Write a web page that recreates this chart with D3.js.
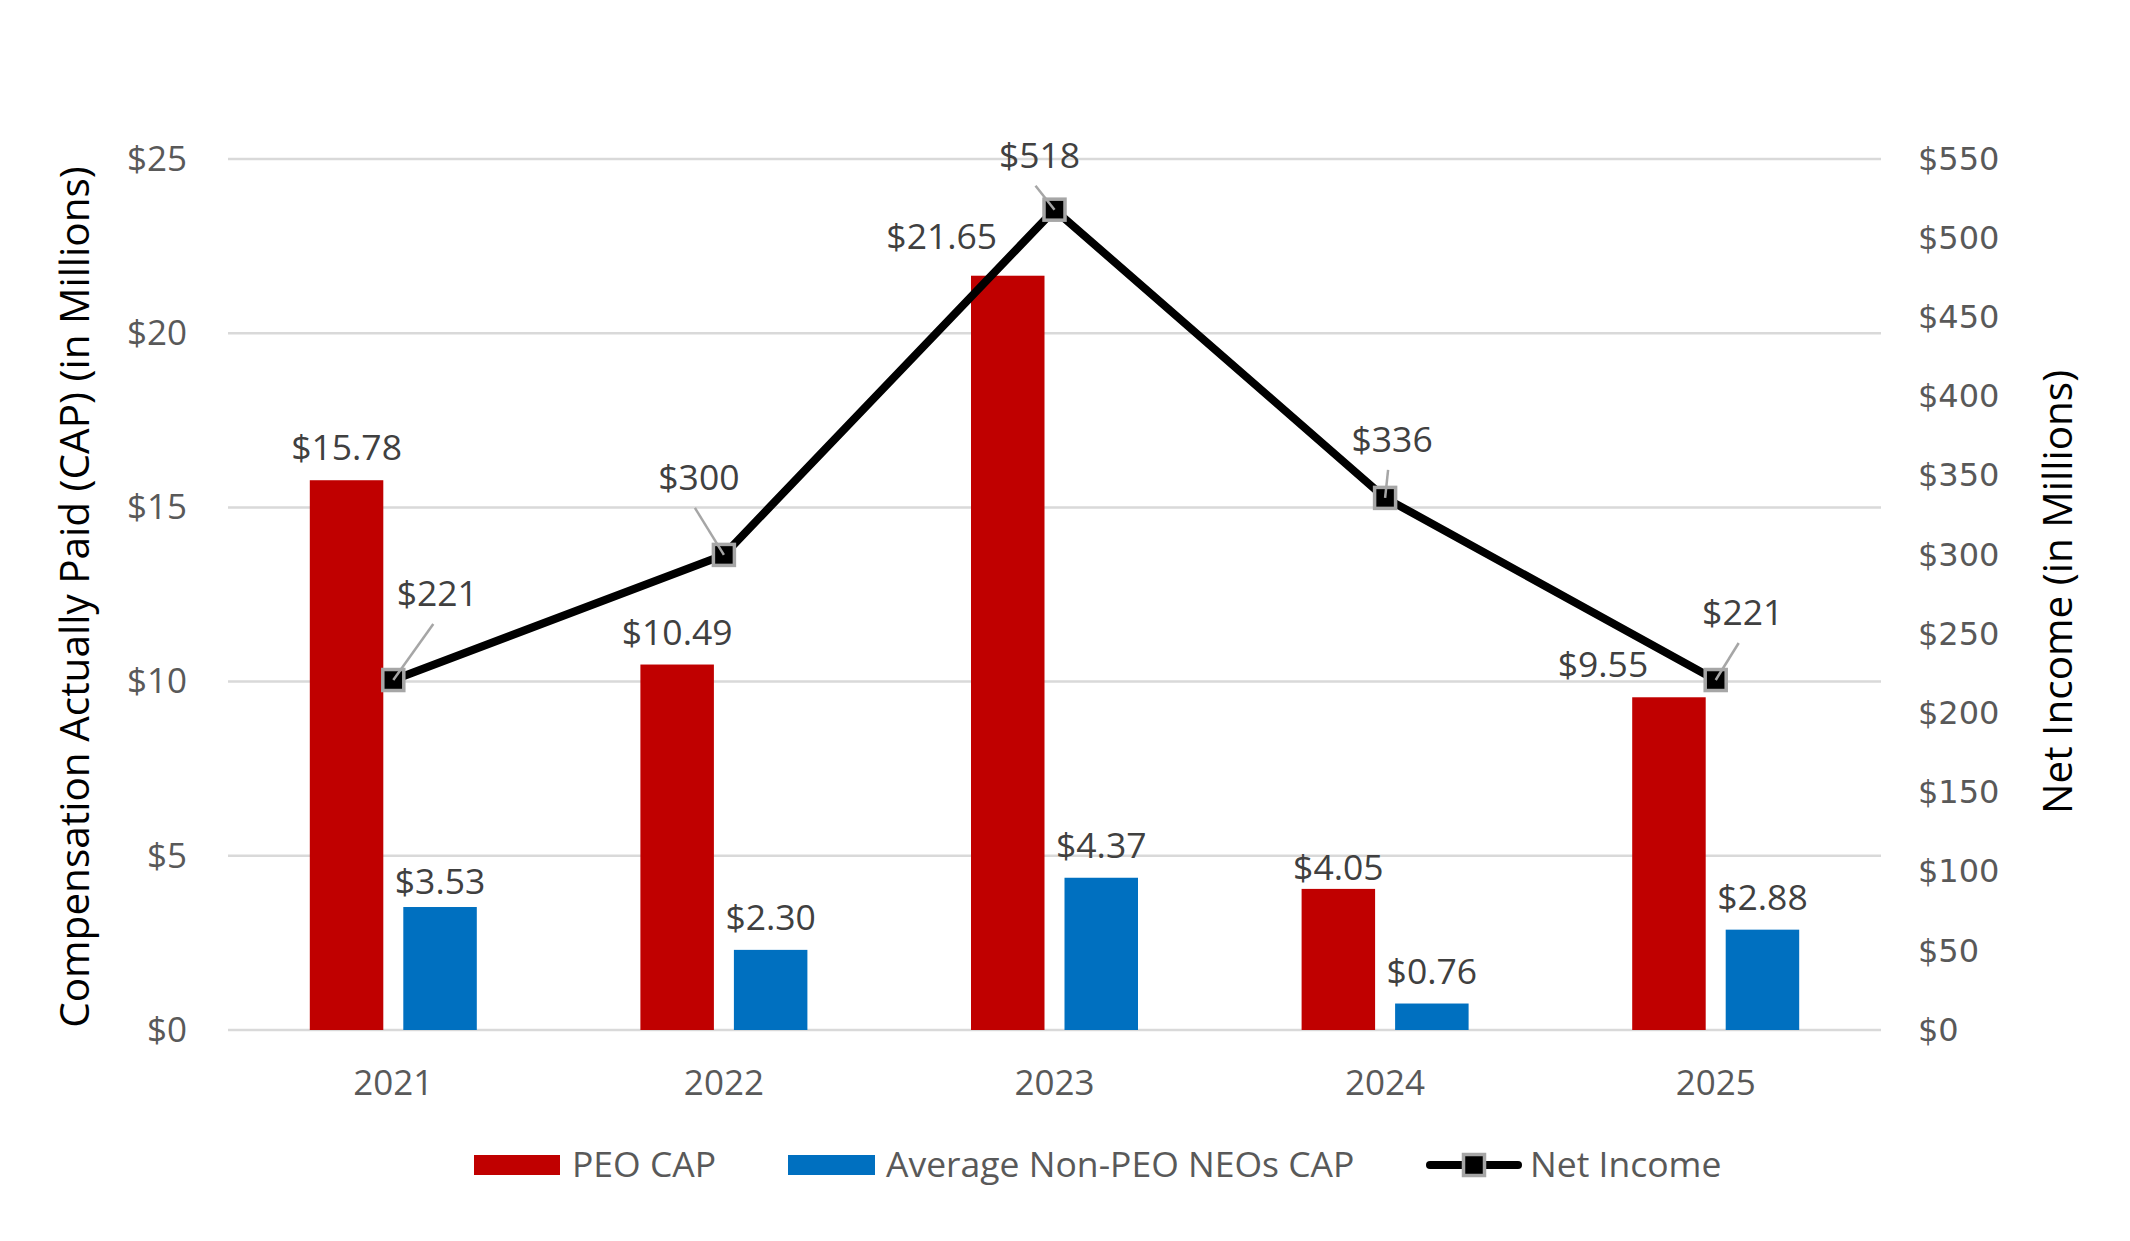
<!DOCTYPE html>
<html>
<head>
<meta charset="utf-8">
<script src="https://cdn.jsdelivr.net/npm/d3@7"></script>
<style>
  html, body { margin: 0; padding: 0; background: #fff; }
  svg { display: block; }
</style>
</head>
<body>
<svg id="chart" width="2130" height="1241"></svg>
<script>
// ---------- DATA ----------
const years = ["2021", "2022", "2023", "2024", "2025"];
const peoCap = [15.78, 10.49, 21.65, 4.05, 9.55];
const neoCap = [3.53, 2.30, 4.37, 0.76, 2.88];
const netIncome = [221, 300, 518, 336, 221];
const leftTicks = [0, 5, 10, 15, 20, 25];
const rightTicks = [0, 50, 100, 150, 200, 250, 300, 350, 400, 450, 500, 550];
const seriesNames = ["PEO CAP", "Average Non-PEO NEOs CAP", "Net Income"];

// ---------- LAYOUT (label nudges, px) ----------
const peoLabelShift = [0, 0, -66, 0, -66];
const peoLabelDy = [0, 0, -7, 11, 0];
const neoLabelDy = [7, 0, 0, 0, 0];
const niLabelDx = [44, -25, -15, 7, 27];
const niLabelDy = [-86, -77, -54, -58, -67];

const RED = "#C00000", BLUE = "#0070C0";
const FONT = "'Open Sans', sans-serif";

const svg = d3.select("#chart");
const plotL = 228, plotR = 1881, plotT = 159, plotB = 1030;

const x = d3.scaleBand().domain(years).range([plotL, plotR]);
const yL = d3.scaleLinear().domain([0, 25]).range([plotB, plotT]);
const yR = d3.scaleLinear().domain([0, 550]).range([plotB, plotT]);
const barW = 73.5, gap = 10;

// gridlines
svg.append("g").selectAll("line").data(leftTicks).join("line")
  .attr("x1", plotL).attr("x2", plotR)
  .attr("y1", d => yL(d)).attr("y2", d => yL(d))
  .attr("stroke", "#d9d9d9").attr("stroke-width", 2.5);

// left axis
const gL = svg.append("g").attr("transform", `translate(${plotL - 41},0)`)
  .call(d3.axisLeft(yL).tickValues(leftTicks).tickSize(0).tickPadding(0).tickFormat(d => "$" + d));
gL.select(".domain").remove();
gL.selectAll("text").attr("font-family", FONT).attr("font-size", 35).attr("fill", "#595959");

// right axis
const gR = svg.append("g").attr("transform", `translate(1918,0)`)
  .call(d3.axisRight(yR).tickValues(rightTicks).tickSize(0).tickPadding(0).tickFormat(d => "$" + d));
gR.select(".domain").remove();
gR.selectAll("text").attr("font-family", "'DejaVu Sans', sans-serif").attr("font-size", 32).attr("fill", "#595959");

// x axis labels
const gX = svg.append("g").attr("transform", `translate(0,${plotB + 53})`)
  .call(d3.axisBottom(x).tickSize(0).tickPadding(0));
gX.select(".domain").remove();
gX.selectAll("text").attr("font-family", FONT).attr("font-size", 35).attr("fill", "#595959").attr("dy", "0.35em");

// axis titles
svg.append("text")
  .attr("transform", `translate(75,597) rotate(-90)`)
  .attr("text-anchor", "middle").attr("dy", "0.35em")
  .attr("font-family", FONT).attr("font-size", 40.5).attr("fill", "#000")
  .text("Compensation Actually Paid (CAP) (in Millions)");
svg.append("text")
  .attr("transform", `translate(2058,592) rotate(-90)`)
  .attr("text-anchor", "middle").attr("dy", "0.35em")
  .attr("font-family", FONT).attr("font-size", 40.5).attr("fill", "#000")
  .text("Net Income (in Millions)");

const cx = d => x(d) + x.bandwidth() / 2;

// bars
svg.append("g").selectAll("rect").data(years).join("rect")
  .attr("x", (d) => cx(d) - gap - barW).attr("width", barW)
  .attr("y", (d, i) => yL(peoCap[i])).attr("height", (d, i) => plotB - yL(peoCap[i]))
  .attr("fill", RED);
svg.append("g").selectAll("rect").data(years).join("rect")
  .attr("x", (d) => cx(d) + gap).attr("width", barW)
  .attr("y", (d, i) => yL(neoCap[i])).attr("height", (d, i) => plotB - yL(neoCap[i]))
  .attr("fill", BLUE);

// bar labels
svg.append("g").selectAll("text").data(years).join("text")
  .attr("x", (d, i) => cx(d) - gap - barW / 2 + peoLabelShift[i])
  .attr("y", (d, i) => yL(peoCap[i]) - 20 + peoLabelDy[i])
  .attr("text-anchor", "middle")
  .attr("font-family", FONT).attr("font-size", 35.5).attr("fill", "#404040")
  .text((d, i) => "$" + peoCap[i].toFixed(2));
svg.append("g").selectAll("text").data(years).join("text")
  .attr("x", (d) => cx(d) + gap + barW / 2)
  .attr("y", (d, i) => yL(neoCap[i]) - 20 + neoLabelDy[i])
  .attr("text-anchor", "middle")
  .attr("font-family", FONT).attr("font-size", 35.5).attr("fill", "#404040")
  .text((d, i) => "$" + neoCap[i].toFixed(2));

// net income line
const line = d3.line().x(d => cx(d.year)).y(d => yR(d.v));
const niData = years.map((y, i) => ({ year: y, v: netIncome[i], i }));
svg.append("path").datum(niData)
  .attr("d", line).attr("fill", "none").attr("stroke", "#000")
  .attr("stroke-width", 8).attr("stroke-linejoin", "round").attr("stroke-linecap", "round");

const mk = 21;
svg.append("g").selectAll("rect").data(niData).join("rect")
  .attr("x", d => cx(d.year) - mk / 2).attr("y", d => yR(d.v) - mk / 2)
  .attr("width", mk).attr("height", mk)
  .attr("fill", "#000").attr("stroke", "#a6a6a6").attr("stroke-width", 3.5);

// leader lines
svg.append("g").selectAll("line").data(niData).join("line")
  .attr("x1", d => cx(d.year)).attr("y1", d => yR(d.v))
  .attr("x2", d => cx(d.year) + niLabelDx[d.i] - 4).attr("y2", d => yR(d.v) + niLabelDy[d.i] + 30)
  .attr("stroke", "#a6a6a6").attr("stroke-width", 2.5);

svg.append("g").selectAll("text").data(niData).join("text")
  .attr("x", d => cx(d.year) + niLabelDx[d.i])
  .attr("y", d => yR(d.v) + niLabelDy[d.i])
  .attr("dy", "0.35em").attr("text-anchor", "middle")
  .attr("font-family", FONT).attr("font-size", 35.5).attr("fill", "#404040")
  .text(d => "$" + d.v);

// legend
const lg = svg.append("g");
const ly = 1165;
lg.append("rect").attr("x", 474).attr("y", ly - 10).attr("width", 86).attr("height", 20).attr("fill", RED);
lg.append("text").attr("x", 572).attr("y", ly).attr("dy", "0.35em")
  .attr("font-family", FONT).attr("font-size", 35.5).attr("fill", "#595959").text(seriesNames[0]);
lg.append("rect").attr("x", 788).attr("y", ly - 10).attr("width", 87).attr("height", 20).attr("fill", BLUE);
lg.append("text").attr("x", 886).attr("y", ly).attr("dy", "0.35em")
  .attr("font-family", FONT).attr("font-size", 35.5).attr("fill", "#595959").text(seriesNames[1]);
lg.append("line").attr("x1", 1430).attr("x2", 1518).attr("y1", ly).attr("y2", ly)
  .attr("stroke", "#000").attr("stroke-width", 8).attr("stroke-linecap", "round");
lg.append("rect").attr("x", 1474 - mk / 2).attr("y", ly - mk / 2).attr("width", mk).attr("height", mk)
  .attr("fill", "#000").attr("stroke", "#a6a6a6").attr("stroke-width", 3.5);
lg.append("text").attr("x", 1530).attr("y", ly).attr("dy", "0.35em")
  .attr("font-family", FONT).attr("font-size", 35.5).attr("fill", "#595959").text(seriesNames[2]);
</script>
</body>
</html>
